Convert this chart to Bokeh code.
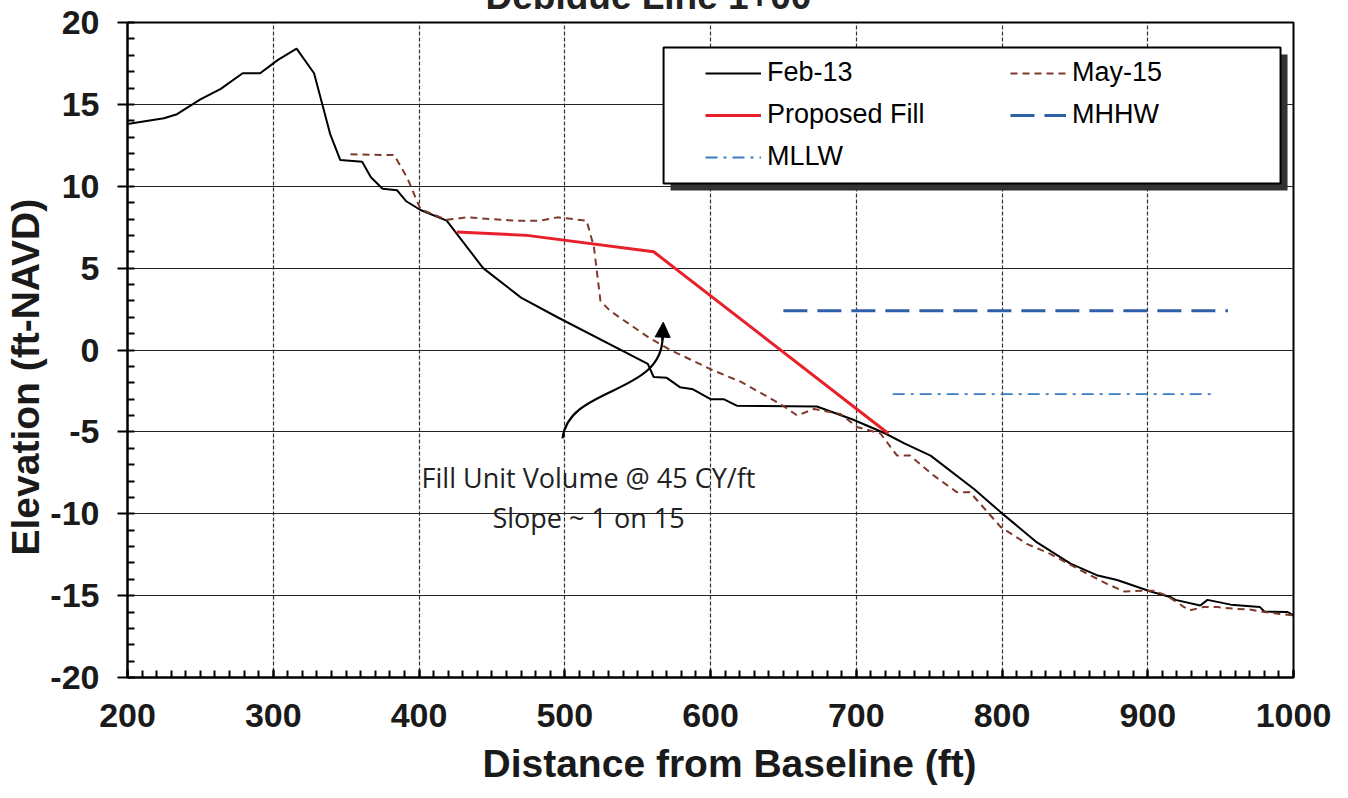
from bokeh.plotting import figure
from bokeh.models import (Range1d, SingleIntervalTicker, Legend, LegendItem, Label, Title,
                          BoxAnnotation, Arrow, NormalHead, PrintfTickFormatter)
from bokeh.embed import file_html
from bokeh.resources import INLINE

title_text = "Debidue Line 1+00"
x_label = "Distance from Baseline (ft)"
y_label = "Elevation (ft-NAVD)"
note_lines = ["Fill Unit Volume @ 45 CY/ft", "Slope ~ 1 on 15"]

feb_x = [200, 225, 234, 250, 264, 279, 291, 303, 316, 328, 339, 346, 361, 367, 375, 385, 391, 401,
         419, 444, 470, 495, 557, 561, 570, 579, 588, 600, 609, 618, 673, 698, 720, 733, 751, 781,
         799, 824, 847, 865, 879, 902, 916, 919, 936, 941, 957, 977, 980, 996, 1000]
feb_y = [13.8, 14.15, 14.4, 15.3, 15.95, 16.9, 16.9, 17.7, 18.4, 16.9, 13.2, 11.6, 11.5, 10.55, 9.85,
         9.75, 9.1, 8.55, 7.9, 5.0, 3.2, 2.0, -0.85, -1.65, -1.7, -2.27, -2.4, -3.0, -3.0, -3.4,
         -3.45, -4.26, -5.1, -5.7, -6.45, -8.5, -9.9, -11.75, -13.05, -13.75, -14.05, -14.75,
         -15.1, -15.26, -15.6, -15.26, -15.55, -15.7, -15.97, -16.0, -16.2]

may_x = [353, 383, 392, 401, 419, 433, 465, 483, 495, 515, 520, 524.5, 531, 557, 572.5, 602, 621,
         648, 659.5, 671, 689, 700.6, 716.6, 728, 737, 753, 769, 778, 799, 817, 833, 852, 872, 884,
         897, 904, 913, 925, 929, 938, 948, 959, 970, 980, 989, 1000]
may_y = [11.95, 11.9, 10.5, 8.6, 7.95, 8.1, 7.9, 7.9, 8.1, 7.9, 6.3, 3.0, 2.4, 0.8, 0.0, -1.25,
         -1.95, -3.3, -4.0, -3.6, -3.9, -4.7, -5.1, -6.45, -6.45, -7.66, -8.68, -8.68, -10.8,
         -11.84, -12.45, -13.36, -14.28, -14.75, -14.7, -14.7, -15.0, -15.7, -15.9, -15.7, -15.7,
         -15.8, -15.85, -16.0, -16.1, -16.2]

fill_x = [426, 474, 561, 722]
fill_y = [7.2, 7.0, 6.0, -5.1]

mhhw_x = [650, 955]
mhhw_y = [2.4, 2.4]

mllw_x = [725, 945]
mllw_y = [-2.7, -2.7]

FONT = "Liberation Sans"

p = figure(width=1340, height=798, output_backend="svg", toolbar_location=None,
           x_range=Range1d(200, 1000), y_range=Range1d(-20, 20),
           min_border_left=127, min_border_right=47, min_border_top=22, min_border_bottom=121)
p.background_fill_color = "white"
p.border_fill_color = "white"
p.outline_line_color = "black"
p.outline_line_width = 2

p.xaxis.ticker = SingleIntervalTicker(interval=100, num_minor_ticks=10)
p.yaxis.ticker = SingleIntervalTicker(interval=5, num_minor_ticks=5)
p.xgrid.ticker = p.xaxis.ticker
p.ygrid.ticker = p.yaxis.ticker
p.xaxis.formatter = PrintfTickFormatter(format="%d")
p.yaxis.formatter = PrintfTickFormatter(format="%d")

for ax in (p.xaxis, p.yaxis):
    ax.axis_line_color = "black"
    ax.axis_line_width = 2
    ax.major_label_text_font = FONT
    ax.major_label_text_font_style = "bold"
    ax.major_label_text_font_size = "34px"
    ax.major_label_text_color = "#1a1a1a"
    ax.major_tick_line_color = "black"
    ax.minor_tick_line_color = "black"
    ax.major_tick_line_width = 2
    ax.minor_tick_line_width = 2
    ax.minor_tick_in = 7
    ax.minor_tick_out = 0

p.xaxis.major_tick_in = 8
p.xaxis.major_tick_out = 0
p.xaxis.major_label_standoff = 26
p.yaxis.major_tick_in = 0
p.yaxis.major_tick_out = 10
p.yaxis.major_label_standoff = 18

p.xgrid.grid_line_color = "#333333"
p.xgrid.grid_line_width = 1.2
p.xgrid.grid_line_dash = "4 2"
p.ygrid.grid_line_color = "#222222"
p.ygrid.grid_line_width = 1.2

r_feb = p.line(feb_x, feb_y, line_color="black", line_width=2)
r_may = p.line(may_x, may_y, line_color="#7f3a2c", line_width=2, line_dash="7 5")
r_fill = p.line(fill_x, fill_y, line_color="#e8202a", line_width=3)
r_mhhw = p.line(mhhw_x, mhhw_y, line_color="#2f5fa8", line_width=3, line_dash="24 10")
r_mllw = p.line(mllw_x, mllw_y, line_color="#3a7cc4", line_width=1.8, line_dash="12 6 3 6")

# axis titles as side panels, positioned as in the source image
p.add_layout(Title(text=x_label, align="left", offset=355, standoff=20,
                   text_font=FONT, text_font_style="bold", text_font_size="39px",
                   text_color="#1a1a1a"), "below")
p.add_layout(Title(text=y_label, align="left", offset=122, standoff=1,
                   text_font=FONT, text_font_style="bold", text_font_size="39px",
                   text_color="#1a1a1a"), "left")

# chart title, cut off by the top edge as in the source image
p.add_layout(Title(text=title_text + "\n\u00a0", align="left", offset=358, standoff=-55,
                   vertical_align="top", text_line_height=0.75, text_font=FONT,
                   text_font_style="bold", text_font_size="37px", text_color="#222222"),
             "above")

# annotation curve and arrow
p.bezier(x0=[498.5], y0=[-5.4], x1=[567.1], y1=[0.8], cx0=[502.6], cy0=[-2.17],
         cx1=[567.1], cy1=[-2.78], line_color="black", line_width=2.2)
p.add_layout(Arrow(end=NormalHead(size=15, fill_color="black", line_color="black"),
                   x_start=567.1, y_start=0.6, x_end=567.6, y_end=1.7,
                   line_color="black", line_width=2.2))

for i, t in enumerate(note_lines):
    p.add_layout(Label(x=516.3, y=[-7.79, -10.23][i], text=t, text_align="center",
                       text_baseline="middle", text_font="Open Sans",
                       text_font_size="27px", text_color="#222222"))

# legend box with shadow
p.add_layout(BoxAnnotation(left=572.6, right=995.9, top=18.04, bottom=9.74,
                           fill_color="#333333", fill_alpha=1, line_color=None))
p.add_layout(BoxAnnotation(left=567.8, right=991.1, top=18.47, bottom=10.17,
                           fill_color="white", fill_alpha=1, line_color="black",
                           line_width=2, line_alpha=1))

legend = Legend(items=[
    LegendItem(label="Feb-13", renderers=[r_feb]),
    LegendItem(label="Proposed Fill", renderers=[r_fill]),
    LegendItem(label="MLLW", renderers=[r_mllw]),
    LegendItem(label="May-15", renderers=[r_may]),
    LegendItem(label="MHHW", renderers=[r_mhhw]),
], ncols=2, location=(578, 505))
legend.border_line_color = None
legend.background_fill_alpha = 0
legend.padding = 0
legend.margin = 0
legend.spacing = 11
legend.glyph_width = 56
legend.glyph_height = 20
legend.label_standoff = 6
legend.label_width = 232
legend.label_text_font = FONT
legend.label_text_font_size = "27px"
legend.label_text_color = "black"
p.add_layout(legend, "center")

open("out.html", "w").write(file_html(p, INLINE))
